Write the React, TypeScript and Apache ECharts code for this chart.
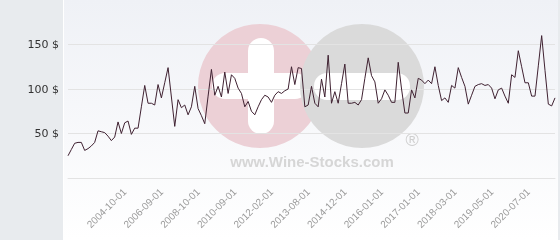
import React, { useEffect, useRef } from "react";
import * as echarts from "echarts";

const dates: string[] = [
  "2001-12-01", "2002-02-01", "2002-04-01", "2002-06-01", "2002-08-01", "2002-10-01", "2002-12-01", "2003-02-01", "2003-04-01", "2003-06-01", "2003-08-01", "2003-10-01", "2003-12-01", "2004-02-01", "2004-04-01", "2004-06-01", "2004-08-01",
  "2004-10-01", "2004-12-01", "2005-02-01", "2005-04-01", "2005-06-01", "2005-08-01", "2005-10-01", "2005-12-01", "2006-02-01", "2006-04-01", "2006-06-01",
  "2006-09-01", "2006-11-01", "2007-01-01", "2007-03-01", "2007-05-01", "2007-07-01", "2007-09-01", "2007-11-01", "2008-01-01", "2008-03-01", "2008-06-01",
  "2008-10-01", "2008-12-01", "2009-02-01", "2009-04-01", "2009-06-01", "2009-08-01", "2009-10-01", "2009-12-01", "2010-02-01", "2010-04-01", "2010-06-01",
  "2010-09-01", "2010-10-01", "2010-12-01", "2011-01-01", "2011-03-01", "2011-04-01", "2011-06-01", "2011-07-01", "2011-09-01", "2011-10-01", "2011-12-01",
  "2012-02-01", "2012-03-01", "2012-05-01", "2012-07-01", "2012-08-01", "2012-10-01", "2012-12-01", "2013-01-01", "2013-03-01", "2013-04-01", "2013-06-01",
  "2013-08-01", "2013-09-01", "2013-11-01", "2013-12-01", "2014-02-01", "2014-03-01", "2014-05-01", "2014-06-01", "2014-08-01", "2014-09-01", "2014-10-01",
  "2014-12-01", "2015-01-01", "2015-02-01", "2015-03-01", "2015-05-01", "2015-06-01", "2015-07-01", "2015-08-01", "2015-09-01", "2015-10-01", "2015-11-01",
  "2016-01-01", "2016-02-01", "2016-03-01", "2016-04-01", "2016-05-01", "2016-06-01", "2016-07-01", "2016-09-01", "2016-10-01", "2016-11-01", "2016-12-01",
  "2017-01-01", "2017-02-01", "2017-03-01", "2017-05-01", "2017-06-01", "2017-07-01", "2017-09-01", "2017-10-01", "2017-11-01", "2017-12-01", "2018-01-01",
  "2018-03-01", "2018-04-01", "2018-05-01", "2018-07-01", "2018-08-01", "2018-09-01", "2018-11-01", "2018-12-01", "2019-01-01", "2019-02-01", "2019-03-01",
  "2019-05-01", "2019-06-01", "2019-07-01", "2019-09-01", "2019-10-01", "2019-11-01", "2020-01-01", "2020-02-01", "2020-03-01", "2020-04-01", "2020-05-01",
  "2020-07-01", "2020-08-01", "2020-09-01", "2020-10-01", "2020-11-01", "2020-12-01", "2021-01-01", "2021-02-01", "2021-03-01",
];

const prices: number[] = [
  25, 32, 39, 40, 40, 31, 33, 36, 40, 53, 52, 51, 47, 42, 46, 63, 50, 62, 64, 49,
  56, 56, 80, 104, 84, 84, 82, 105, 90, 107, 124, 91, 58, 88, 79, 82, 71, 80, 103, 78,
  70, 61, 92, 122, 93, 103, 91, 119, 95, 116, 112, 101, 95, 80, 86, 75, 71, 80, 88, 93,
  91, 85, 93, 97, 95, 98, 100, 125, 105, 124, 123, 80, 82, 103, 84, 80, 111, 91, 138, 84,
  97, 84, 106, 128, 84, 84, 85, 82, 88, 112, 135, 115, 108, 84, 89, 99, 93, 85, 85, 130,
  100, 73, 73, 99, 90, 112, 110, 106, 110, 106, 125, 104, 87, 90, 85, 104, 101, 124, 113, 103,
  83, 93, 103, 105, 106, 104, 105, 101, 89, 99, 101, 92, 84, 116, 113, 143, 125, 107, 107, 92,
  92, 126, 160, 121, 83, 81, 90,
];

const tickDates: string[] = [
  "2004-10-01", "2006-09-01", "2008-10-01", "2010-09-01", "2012-02-01", "2013-08-01",
  "2014-12-01", "2016-01-01", "2017-01-01", "2018-03-01", "2019-05-01", "2020-07-01",
];

const yMin = 0;
const yMax = 200;
const yStep = 50;
const currency = "$";
const watermarkText = "www.Wine-Stocks.com";

export default function App() {
  const ref = useRef<HTMLDivElement>(null);

  useEffect(() => {
    if (!ref.current) return;
    const chart = echarts.init(ref.current, undefined, { renderer: "svg" });
    const grid = "#e3e3e3";
    chart.setOption({
      animation: false,
      grid: { left: 68, right: 5, top: 0, bottom: 62, containLabel: false },
      graphic: [
        { type: "rect", z: -20, silent: true, shape: { x: 0, y: 0, width: 560, height: 240 }, style: { fill: "#e8ebee" } },
        {
          type: "rect", z: -19, silent: true,
          shape: { x: 64, y: 0, width: 494, height: 240 },
          style: {
            fill: new echarts.graphic.LinearGradient(0, 0, 0, 1, [
              { offset: 0, color: "#eff1f6" },
              { offset: 1, color: "#ffffff" },
            ]),
          },
        },
        { type: "rect", z: -19, silent: true, shape: { x: 63, y: 0, width: 1, height: 240 }, style: { fill: "#ffffff" } },
        { type: "circle", z: -10, silent: true, shape: { cx: 260, cy: 86, r: 62 }, style: { fill: "#ecd0d6" } },
        { type: "rect", z: -9, silent: true, shape: { x: 248, y: 38, width: 26, height: 96, r: 13 }, style: { fill: "#ffffff" } },
        { type: "rect", z: -9, silent: true, shape: { x: 212, y: 73, width: 96, height: 26, r: 13 }, style: { fill: "#ffffff" } },
        { type: "circle", z: -8, silent: true, shape: { cx: 362, cy: 86, r: 62 }, style: { fill: "#dadada" } },
        { type: "rect", z: -7, silent: true, shape: { x: 314, y: 73, width: 96, height: 27, r: 13 }, style: { fill: "#ffffff" } },
        {
          type: "text", z: -7, silent: true, x: 312, y: 161,
          style: { text: watermarkText, fill: "#d6d6d6", font: "bold 15px 'Liberation Sans', Arial, sans-serif", align: "center", verticalAlign: "middle" },
        },
        {
          type: "text", z: -7, silent: true, x: 412, y: 140,
          style: { text: "®", fill: "#cfcfcf", font: "18px 'Liberation Sans', Arial, sans-serif", align: "center", verticalAlign: "middle" },
        },
      ],
      xAxis: {
        type: "category",
        data: dates,
        boundaryGap: false,
        axisLine: { show: true, lineStyle: { color: grid, width: 1 } },
        axisTick: { show: false },
        splitLine: { show: false },
        axisLabel: {
          interval: (_i: number, value: string) => tickDates.includes(value),
          rotate: 45,
          margin: 12,
          color: "#9a9a9a",
          fontSize: 10,
          fontFamily: "'Liberation Sans', Arial, sans-serif",
        },
      },
      yAxis: {
        type: "value",
        min: yMin,
        max: yMax,
        interval: yStep,
        axisLine: { show: false },
        axisTick: { show: false },
        splitLine: { show: true, showMinLine: false, showMaxLine: false, lineStyle: { color: grid, width: 1 } },
        axisLabel: {
          showMinLabel: false,
          showMaxLabel: false,
          margin: 9,
          color: "#333333",
          fontSize: 11,
          fontFamily: "'DejaVu Sans', sans-serif",
          formatter: (v: number) => `${v} ${currency}`,
        },
      },
      series: [
        {
          type: "line",
          data: prices,
          showSymbol: false,
          symbol: "none",
          lineStyle: { color: "#3f2131", width: 1 },
          z: 3,
        },
      ],
    });
    return () => chart.dispose();
  }, []);

  return (
    <div
      ref={ref}
      style={{ position: "fixed", left: 0, top: 0, width: 560, height: 240 }}
    />
  );
}
